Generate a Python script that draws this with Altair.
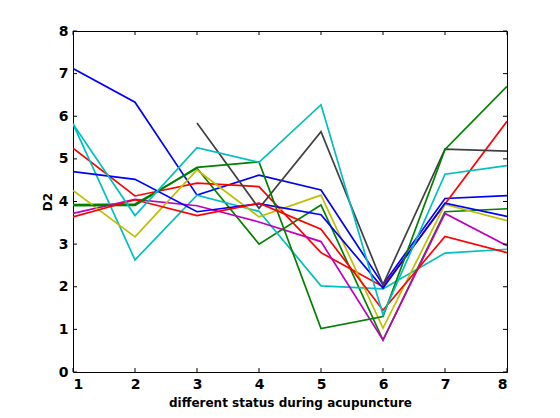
import altair as alt
import pandas as pd

steps = [1, 2, 3, 4, 5, 6, 7, 8]
yticks = [0, 1, 2, 3, 4, 5, 6, 7, 8]

blue_a = [7.12, 6.33, 4.15, 4.62, 4.27, 2.05, 4.07, 4.14]
green_b = [3.93, 3.94, 4.78, 3.00, 3.92, 0.75, 3.76, 3.83]
red_a = [5.25, 4.13, 4.43, 4.35, 2.80, 2.00, 3.94, 5.88]
cyan_a = [5.82, 2.63, 4.15, 3.77, 2.02, 1.95, 2.79, 2.88]
magenta = [3.72, 4.05, 3.90, 3.52, 3.06, 0.75, 3.72, 2.96]
yellow = [4.26, 3.17, 4.74, 3.64, 4.15, 1.03, 3.93, 3.55]
gray = [None, None, 5.84, 3.84, 5.64, 2.05, 5.23, 5.18]
blue_b = [4.70, 4.52, 3.76, 3.95, 3.69, 1.97, 3.96, 3.65]
green_a = [3.90, 3.91, 4.80, 4.93, 1.02, 1.30, 5.22, 6.70]
red_b = [3.64, 4.04, 3.67, 3.96, 3.35, 1.45, 3.18, 2.80]
cyan_b = [5.82, 3.67, 5.26, 4.92, 6.27, 1.34, 4.64, 4.84]

names = ["s01", "s02", "s03", "s04", "s05", "s06", "s07",
         "s08", "s09", "s10", "s11"]
values = [blue_a, green_b, red_a, cyan_a, magenta, yellow, gray,
          blue_b, green_a, red_b, cyan_b]
colors = ["#0000FF", "#008000", "#FF0000", "#00BFBF", "#BF00BF", "#BFBF00",
          "#404040", "#0000FF", "#008000", "#FF0000", "#00BFBF"]

rows = []
for name, vals in zip(names, values):
    for x, v in zip(steps, vals):
        if v is not None:
            rows.append({"series": name, "step": x, "D2": v})
df = pd.DataFrame(rows)

W, H = 434, 341
TL = 4

xscale = alt.Scale(domain=[1, 8], nice=False, zero=False)
yscale = alt.Scale(domain=[0, 8], nice=False)

xaxis = alt.Axis(title="different status during acupuncture",
                 values=steps, format="d", ticks=False, tickSize=0,
                 domain=False, grid=False, labelPadding=5,
                 labelFont="DejaVu Sans", labelFontWeight="bold",
                 labelFontSize=14, labelColor="black",
                 titleFont="DejaVu Sans", titleFontWeight="bold",
                 titleFontSize=12, titleColor="black",
                 titleX=W / 2, titleY=34, titleBaseline="alphabetic")
yaxis = alt.Axis(title="D2", values=yticks, format="d", ticks=False,
                 tickSize=0, domain=False, grid=False, labelPadding=5,
                 labelFont="DejaVu Sans", labelFontWeight="bold",
                 labelFontSize=14, labelColor="black",
                 titleFont="DejaVu Sans", titleFontWeight="bold",
                 titleFontSize=12, titleColor="black",
                 titleX=-22, titleY=H / 2, titleBaseline="alphabetic")

lines = alt.Chart(df).mark_line(strokeWidth=1.7, clip=True).encode(
    x=alt.X("step:Q", scale=xscale, axis=xaxis),
    y=alt.Y("D2:Q", scale=yscale, axis=yaxis),
    color=alt.Color("series:N", scale=alt.Scale(domain=names, range=colors),
                    legend=None),
    detail="series:N",
)

xt = pd.DataFrame({"t": steps})
yt = pd.DataFrame({"t": yticks})

bottom = alt.Chart(xt).mark_rule(color="black", strokeWidth=1).encode(
    x=alt.X("t:Q", scale=xscale, axis=xaxis),
    y=alt.value(H), y2=alt.value(H - TL))
top = alt.Chart(xt).mark_rule(color="black", strokeWidth=1).encode(
    x=alt.X("t:Q", scale=xscale, axis=xaxis),
    y=alt.value(0), y2=alt.value(TL))
left = alt.Chart(yt).mark_rule(color="black", strokeWidth=1).encode(
    y=alt.Y("t:Q", scale=yscale, axis=yaxis),
    x=alt.value(0), x2=alt.value(TL))
right = alt.Chart(yt).mark_rule(color="black", strokeWidth=1).encode(
    y=alt.Y("t:Q", scale=yscale, axis=yaxis),
    x=alt.value(W), x2=alt.value(W - TL))

chart = alt.layer(lines, bottom, top, left, right).properties(
    width=W, height=H,
    autosize=alt.AutoSizeParams(type="none"),
    padding={"left": 65, "top": 23, "right": 45, "bottom": 38},
    background="white",
).configure_view(stroke="black", strokeWidth=1)

chart.save("out.html", embed_options={"renderer": "svg", "actions": False})
